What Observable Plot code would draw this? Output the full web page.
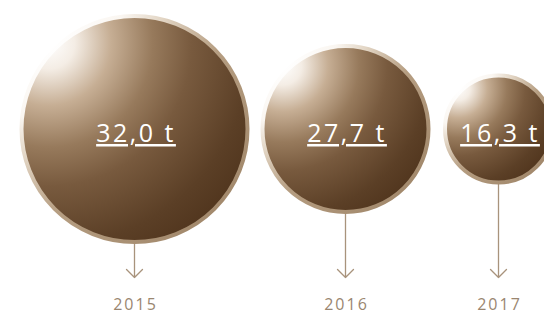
<!DOCTYPE html>
<html><head><meta charset="utf-8">
<script src="https://cdn.jsdelivr.net/npm/d3@7"></script>
<script src="https://cdn.jsdelivr.net/npm/@observablehq/plot@0.6"></script>
<style>
body{margin:0;background:#fff}
#chart g.vals text{letter-spacing:2.5px;text-decoration:underline;text-decoration-thickness:2px;text-underline-offset:3px;}
#chart g.years text{letter-spacing:2px;}
</style>
</head><body><div id="chart"></div>
<script>
const years = [2015, 2016, 2017];
const tonnes = [32.0, 27.7, 16.3];
const valueLabels = ["32,0 t", "27,7 t", "16,3 t"];
const yearLabels = ["2015", "2016", "2017"];

const data = years.map((year, i) => ({year, tonnes: tonnes[i], label: valueLabels[i], yearLabel: yearLabels[i]}));

const chart = Plot.plot({
  width: 544,
  height: 315,
  margin: 0,
  x: {type: "linear", domain: years, range: [134, 345, 498], axis: null},
  y: {domain: [0, 1], range: [128.5, 277], axis: null},
  r: {type: "linear", domain: [16.3, 27.7, 32], range: [53.5, 83, 113]},
  style: {fontFamily: "'Open Sans', sans-serif"},
  marks: [
    Plot.arrow(data, {x: "year", y1: 0, y2: 1, stroke: "#a8937c", strokeWidth: 1.3, headAngle: 90, headLength: 13}),
    Plot.dot(data, {x: "year", y: 0, r: "tonnes", fill: "url(#bubbleFill)", stroke: "url(#bubbleRim)", strokeWidth: 4}),
    Plot.text(data, {x: "year", y: 0, text: "label", fill: "#ffffff", fontSize: 25, fontWeight: 500, dx: 1.5, dy: 5, fontFamily: "'Open Sans', sans-serif"}),
    Plot.text(data, {x: "year", text: "yearLabel", frameAnchor: "bottom", lineAnchor: "middle", dy: -11, dx: 1, fill: "#9a8670", fontSize: 16, fontFamily: "'Open Sans', sans-serif"})
  ]
});

const svg = d3.select(chart);
const textGroups = svg.selectAll("g[aria-label='text']").nodes();
d3.select(textGroups[0]).classed("vals", true);
d3.select(textGroups[1]).classed("years", true);

const defs = svg.insert("defs", ":first-child");
const fill = defs.append("radialGradient").attr("id", "bubbleFill")
  .attr("cx", 0.12).attr("cy", 0.12).attr("fx", 0.12).attr("fy", 0.12).attr("r", 1.15);
[[0, "#ffffff"], [0.1, "#f4ede5"], [0.24, "#c6ae94"], [0.4, "#977a5c"], [0.55, "#785a3e"], [0.78, "#5b3f26"], [1, "#4a2f18"]]
  .forEach(([o, c]) => fill.append("stop").attr("offset", o).attr("stop-color", c));
const rim = defs.append("radialGradient").attr("id", "bubbleRim")
  .attr("cx", 0.12).attr("cy", 0.12).attr("fx", 0.12).attr("fy", 0.12).attr("r", 1.15);
[[0, "#ffffff"], [0.3, "#faf6f1"], [0.45, "#e2d5c4"], [0.65, "#b69e82"], [1, "#9c8265"]]
  .forEach(([o, c]) => rim.append("stop").attr("offset", o).attr("stop-color", c));

document.getElementById("chart").appendChild(chart);
</script>
</body></html>
